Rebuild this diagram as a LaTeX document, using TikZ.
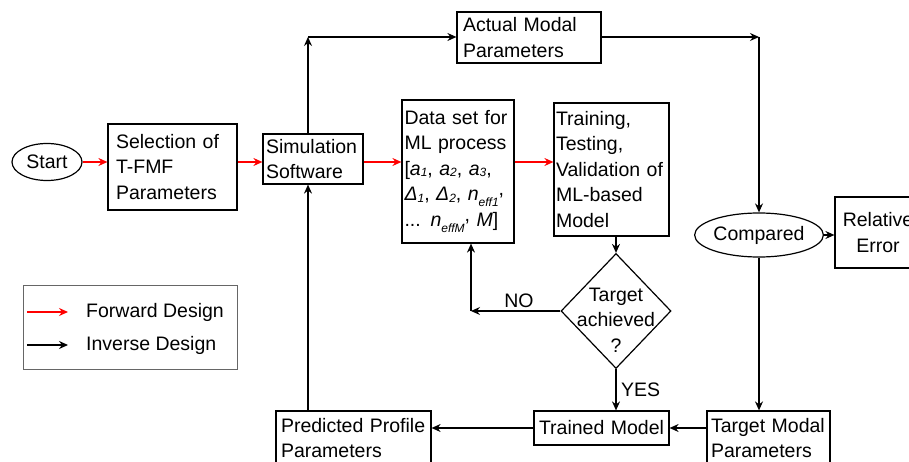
\documentclass[tikz,border=0pt]{standalone}
\usepackage{fontspec}
\setmainfont{Liberation Sans}
\usetikzlibrary{shapes.geometric,arrows.meta,calc}
\newcommand\mysubA[1]{\raisebox{-1.5pt}{\fontsize{12}{12}\selectfont\itshape #1}}
\newcommand\mysubB[1]{\raisebox{-6pt}{\fontsize{12}{12}\selectfont\itshape #1}}
\begin{document}
\begin{tikzpicture}[x=1pt,y=-1pt,
  every node/.style={font=\fontsize{19.5}{25.5}\selectfont},
  box/.style={draw, line width=1.2pt, rectangle, inner ysep=0pt, align=left},
  oval/.style={draw, ellipse, line width=1.2pt, inner sep=0pt},
  fwd/.style={draw=red, line width=1.3pt, -{Stealth[length=9pt,width=8pt,inset=3pt]}},
  inv/.style={draw=black, line width=1.3pt, -{Stealth[length=9pt,width=8pt,inset=3pt]}},
  lbl/.style={inner sep=0pt}
]
\clip (0,0) rectangle (909,462);
\fill[white] (0,0) rectangle (909,462);

% nodes
\node[oval, minimum width=70pt, minimum height=37pt] (start) at (47,162) {Start};
\node[box, text width=113pt, inner xsep=8pt, minimum height=86pt] (sel) at (172.5,167) {Selection of\\T-FMF\\Parameters};
\node[box, text width=94pt, inner xsep=3pt, minimum height=50pt] (sim) at (313,159) {Simulation\\Software};
\node[box, text width=107pt, inner xsep=2.5pt, minimum height=143pt] (data) at (458,171.5)
  {Data set for\\ML process\\{[}\textit{a}\mysubA{1}, \textit{a}\mysubA{2}, \textit{a}\mysubA{3},\\
   \textit{Δ}\mysubA{1}, \textit{Δ}\mysubA{2}, \textit{n}\mysubB{eff1}\raisebox{5pt}{,}\\
   ... \textit{n}\mysubB{effM}\raisebox{5pt}{,} \textit{M}{]}};
\node[box, text width=111pt, inner xsep=2pt, minimum height=133pt] (train) at (611.5,169.5) {Training,\\Testing,\\Validation of\\ML-based\\Model};
\node[box, text width=132pt, inner xsep=6pt, minimum height=51pt] (actual) at (529,37.5) {Actual Modal\\Parameters};
\node[oval, minimum width=120pt, minimum height=44pt] (comp) at (759,235) {Compared};
\node[box, align=center, text width=76pt, inner xsep=5pt, minimum height=71pt] (rel) at (878,232.5) {Relative\\Error};
\node[draw, diamond, line width=1.2pt, minimum width=110pt, minimum height=115pt, inner sep=0pt] (dec) at (616,311) {};
\node[lbl, align=center] (dectext) at (616,320) {Target\\achieved\\?};
\node[box, align=center, text width=128pt, inner xsep=3.5pt, minimum height=34pt] (trained) at (601.5,428) {Trained Model};
\node[box, text width=145pt, inner xsep=5pt, minimum height=54pt] (pred) at (353.5,438) {Predicted Profile\\Parameters};
\node[box, text width=115pt, inner xsep=4pt, minimum height=54pt] (target) at (768.5,438) {Target Modal\\Parameters};

% legend
\node[draw=black!60, line width=1pt, minimum width=214pt, minimum height=84pt, inner sep=0pt] (legend) at (130,327) {};
\coordinate (lf1) at (27,312); \coordinate (lf2) at (68,312);
\coordinate (li1) at (27,345); \coordinate (li2) at (68,345);
\draw[fwd, line width=2pt] (lf1) -- (lf2);
\draw[inv, line width=2pt] (li1) -- (li2);
\node[lbl, anchor=west] (fwdtext) at (86,312) {Forward Design};
\node[lbl, anchor=west] (invtext) at (86,345) {Inverse Design};

% forward connectors
\draw[fwd] (start.east) -- (start.east -| sel.west);
\draw[fwd] (sel.east |- start.east) -- (sim.west |- start.east);
\draw[fwd] (sim.east |- start.east) -- (data.west |- start.east);
\draw[fwd] (data.east |- start.east) -- (train.west |- start.east);

% inverse / other connectors
\coordinate (ctl) at (308,37);
\coordinate (ctr) at (759,37);
\coordinate (cno) at (471,311);
\draw[inv] (sim.north -| ctl) -- (ctl);
\draw[inv] (ctl) -- (actual.west |- ctl);
\draw[inv] (actual.east |- ctr) -- (ctr);
\draw[inv] (ctr) -- (comp.north);
\draw[inv] (comp.east) -- (rel.west |- comp.east);
\draw[inv] (comp.south) -- (comp.south |- target.north);
\draw[inv] (target.west |- trained.west) -- (trained.east);
\draw[inv] (trained.west) -- (pred.east |- trained.west);
\draw[inv] (pred.north -| ctl) -- (sim.south -| ctl);
\draw[inv] (train.south -| dec.north) -- (dec.north);
\draw[inv] (dec.west) -- (cno);
\draw[inv] (cno) -- (cno |- data.south);
\draw[inv] (dec.south) -- (dec.south |- trained.north);

\node[lbl] (no) at (519,301) {NO};
\node[lbl, anchor=west] (yes) at (621,390) {YES};
\end{tikzpicture}
\end{document}
